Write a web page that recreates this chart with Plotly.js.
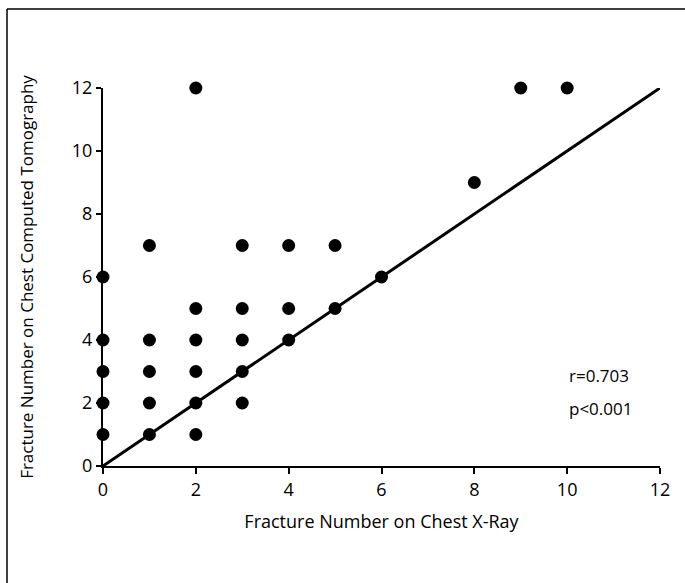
<!DOCTYPE html>
<html>
<head>
<meta charset="utf-8">
<script src="https://cdn.plot.ly/plotly-3.0.1.min.js"></script>
<style>html,body{margin:0;padding:0;background:#fff;}</style>
</head>
<body>
<div id="chart" style="width:685px;height:583px;"></div>
<script>
// Data
const xrayCount = [0,0,0,0,0, 1,1,1,1,1, 2,2,2,2,2,2, 3,3,3,3,3, 4,4,4, 5,5, 6, 8, 9, 10];
const ctCount   = [1,2,3,4,6, 1,2,3,4,7, 1,2,3,4,5,12, 2,3,4,5,7, 4,5,7, 5,7, 6, 9, 12, 12];
const identityX = [0, 12];
const identityY = [0, 12];
const tickVals = [0, 2, 4, 6, 8, 10, 12];
const statLines = ["r=0.703", "p<0.001"];

const FONT = "Open Sans, Noto Sans, sans-serif";

const traces = [
  {
    x: identityX, y: identityY, type: "scatter", mode: "lines",
    line: {color: "#000", width: 3}, hoverinfo: "skip", cliponaxis: false
  },
  {
    x: xrayCount, y: ctCount, type: "scatter", mode: "markers",
    marker: {color: "#000", size: 13}, cliponaxis: false
  }
];

const L = 103, R = 25, T = 88, B = 117, W = 685, H = 583;
const pw = W - L - R, ph = H - T - B;
const px = p => (p - L) / pw;
const py = p => (H - B - p) / ph;

const layout = {
  width: W, height: H,
  margin: {l: L, r: R, t: T, b: B},
  paper_bgcolor: "#fff", plot_bgcolor: "#fff",
  showlegend: false,
  font: {family: FONT, color: "#000", size: 16},
  xaxis: {
    range: [0, 12], tickvals: tickVals, ticktext: tickVals.map(String),
    showgrid: false, zeroline: false, showline: true, linecolor: "#000", linewidth: 2,
    ticks: "outside", ticklen: 6, tickwidth: 2, tickcolor: "#000",
    tickfont: {size: 18, family: FONT}, fixedrange: true,
    title: {text: "Fracture Number on Chest X-Ray", font: {size: 18, family: FONT}, standoff: 16}
  },
  yaxis: {
    range: [0, 12], tickvals: tickVals, ticktext: tickVals.map(String),
    showgrid: false, zeroline: false, showline: true, linecolor: "#000", linewidth: 2,
    ticks: "outside", ticklen: 5, tickwidth: 2, tickcolor: "#000",
    tickfont: {size: 18, family: FONT}, fixedrange: true,
    title: {text: "Fracture Number on Chest Computed Tomography", font: {size: 17, family: FONT}, standoff: 34}
  },
  annotations: [
    {x: 10, y: 2.86, xref: "x", yref: "y", text: statLines[0], showarrow: false,
     xanchor: "left", yanchor: "middle", font: {size: 17, family: FONT}},
    {x: 10, y: 1.84, xref: "x", yref: "y", text: statLines[1], showarrow: false,
     xanchor: "left", yanchor: "middle", font: {size: 17, family: FONT}}
  ],
  shapes: [
    {type: "line", xref: "paper", yref: "paper",
     x0: px(7), x1: px(7), y0: py(9), y1: py(700),
     line: {color: "#000", width: 1.5}, layer: "below"},
    {type: "line", xref: "paper", yref: "paper",
     x0: px(7), x1: px(800), y0: py(9), y1: py(9),
     line: {color: "#000", width: 1.5}, layer: "below"}
  ]
};

Plotly.newPlot("chart", traces, layout, {displayModeBar: false, staticPlot: true});
</script>
</body>
</html>
